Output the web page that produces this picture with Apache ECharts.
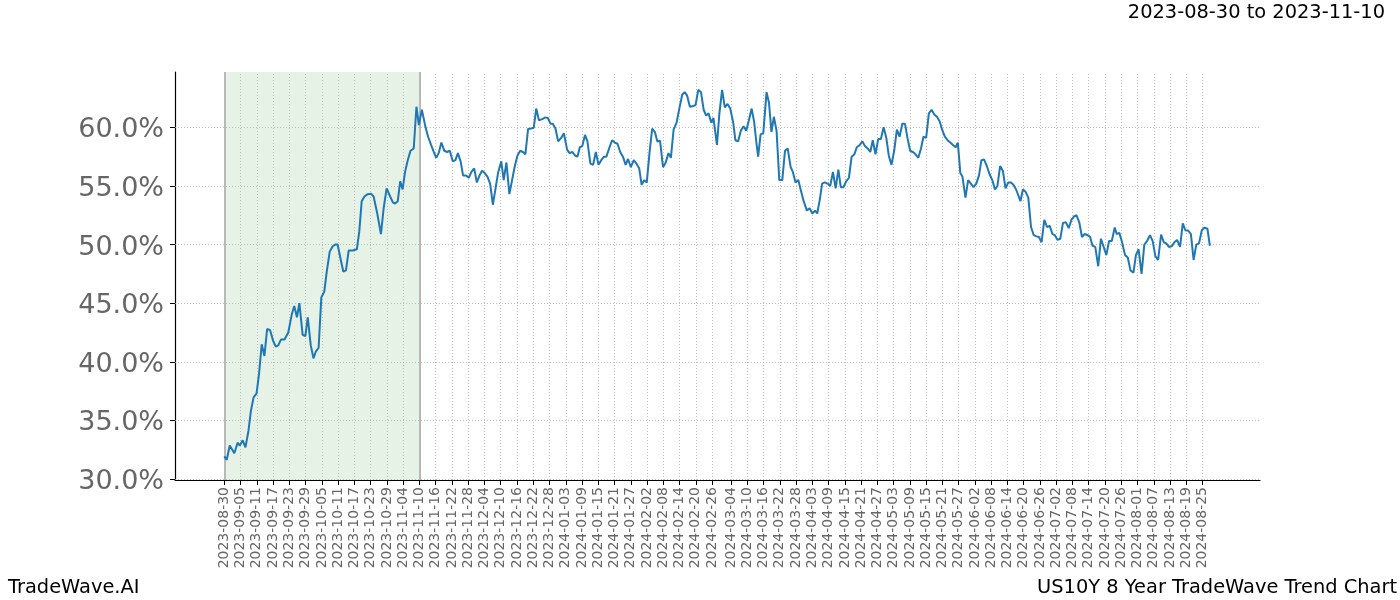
<!DOCTYPE html>
<html><head><meta charset="utf-8">
<script src="https://cdn.jsdelivr.net/npm/echarts@6/dist/echarts.min.js"></script>
<style>html,body{margin:0;padding:0;background:#fff}#c{width:1400px;height:600px}</style>
</head><body><div id="c"></div><script>
// ---- data ----
const startDate = '2023-08-30';
const shadeStart = '2023-08-30';
const shadeEnd = '2023-11-10';
const titleText = '2023-08-30 to 2023-11-10';
const leftFooter = 'TradeWave.AI';
const rightFooter = 'US10Y 8 Year TradeWave Trend Chart';

const tickLabels = [
 '2023-08-30','2023-09-05','2023-09-11','2023-09-17','2023-09-23','2023-09-29','2023-10-05','2023-10-11','2023-10-17','2023-10-23','2023-10-29',
 '2023-11-04','2023-11-10','2023-11-16','2023-11-22','2023-11-28','2023-12-04','2023-12-10','2023-12-16','2023-12-22','2023-12-28',
 '2024-01-03','2024-01-09','2024-01-15','2024-01-21','2024-01-27','2024-02-02','2024-02-08','2024-02-14','2024-02-20','2024-02-26',
 '2024-03-04','2024-03-10','2024-03-16','2024-03-22','2024-03-28','2024-04-03','2024-04-09','2024-04-15','2024-04-21','2024-04-27',
 '2024-05-03','2024-05-09','2024-05-15','2024-05-21','2024-05-27','2024-06-02','2024-06-08','2024-06-14','2024-06-20','2024-06-26',
 '2024-07-02','2024-07-08','2024-07-14','2024-07-20','2024-07-26','2024-08-01','2024-08-07','2024-08-13','2024-08-19','2024-08-25'
];
const yTicks = [30, 35, 40, 45, 50, 55, 60];

// days since startDate
const dayOffsets = [
 0,0.9,2,3.7,4.9,5.7,6.8,7.8,8.9,9.8,10.8,11.9,12.8,13.8,14.8,15.8,16.9,18,19,19.9,20.9,22.2,23.6,24.9,25.8,26.8,27.7,28.9,29.9,30.8,
 31.9,32.9,33.8,34.8,35.8,36.9,37.8,38.9,40,40.9,41.8,42.8,43.9,44.9,45.9,47.4,48.9,49.8,50.7,51.7,52.9,54.2,55.1,56.4,57.8,58.8,59.9,
 61.2,62.2,63,64,64.9,65.8,66.7,67.7,68.7,69.9,70.9,71.8,
 72.9,74.2,75.2,76.3,77.3,78.2,79.1,80.1,81.2,82.2,83.2,84.3,85.3,86.2,87.2,88.1,89.2,90.2,91.2,92.2,93.2,94.2,95.1,96.1,97.1,98.1,
 99.1,100.1,101,102.2,103.1,104.1,105.2,106.2,107.2,108.2,109.2,110.2,111.1,112.1,113.2,114.2,115.1,116.1,117.3,118.5,119.4,120.4,
 121.2,122.2,123.2,124.3,125.3,126.5,127.4,128.4,129.4,130.3,131.2,132.1,133.1,134,135.1,136.1,137.1,138.1,139.1,140.1,141,142,143.1,
 144.1,145.1,146.1,147.1,148.1,
 149,150,151.1,152.1,153.1,154,155,155.9,156.9,157.9,158.9,159.8,160.8,161.9,162.9,163.9,164.8,165.8,166.9,168,169,169.9,170.8,171.8,
 172.8,173.9,174.9,175.9,176.9,177.8,178.7,179.7,180.5,181.8,182.7,183.7,184.7,185.7,186.7,187.8,188.6,189.6,190.6,191.6,192.6,193.6,
 194.6,195.5,196.4,197,197.9,198.9,200.1,201,201.9,202.8,203.8,204.8,205.9,206.9,207.9,209,209.8,210.8,211.8,212.8,213.8,215,216,217,
 218,218.8,219.8,220.6,221.6,
 222.6,223.6,224.6,225.6,226.6,227.5,228.5,229.5,230.5,231.5,232.5,233.4,234.5,235.5,236.4,237.4,238.4,239.3,240.3,241.3,242.3,243.3,
 244.3,245.2,246.2,247.2,248.2,249.2,250.2,251.2,252.1,253.1,254.1,255.1,256.1,257.1,258,259,260,261,262,263,264,264.9,265.9,266.9,
 267.9,268.9,269.9,270.7,271.6,272.4,273.5,274.5,275.5,276.5,277.5,278.5,279.4,280.4,281.4,282.4,283.4,284.4,285.3,286.3,287.3,288.3,
 289.3,290.3,291.2,292.2,
 293.8,294.7,295.7,296.7,297.7,298.7,299.7,300.6,301.6,302.6,303.6,304.6,305.6,306.5,307.5,308.5,309.5,310.6,311.6,312.6,313.6,314.5,
 315.5,316.5,317.5,318.5,319.5,320.4,321.4,322.5,323.5,324.5,325.5,326.5,327.5,328.6,329.3,330.3,331.3,332.4,333.4,334.4,335.5,336.4,
 337.4,338.5,339.5,340.5,341.6,342.6,343.6,344.6,345.7,346.7,347.6,348.6,349.6,350.6,351.6,352.7,353.7,354.7,355.7,356.7,357.7,358.7,
 359.7,360.7,361.7,362.8,363.7
];
const values = [
 31.93,31.64,32.86,32.2,33.1,32.86,33.3,32.7,34.1,35.8,36.97,37.3,38.95,41.5,40.5,42.8,42.7,41.8,41.3,41.4,41.9,41.9,42.5,44.05,44.76,43.8,45.0,42.3,42.2,43.8,
 41.4,40.3,40.9,41.2,45.5,46.0,47.7,49.4,49.86,50.0,50.0,48.9,47.7,47.8,49.5,49.5,49.6,51.1,53.7,54.1,54.3,54.33,54.1,52.7,50.9,53.1,54.8,
 54.1,53.6,53.5,53.7,55.4,54.7,56.2,57.2,58.0,58.2,61.76,60.2,
 61.5,60.06,59.2,58.5,57.9,57.4,57.8,58.7,58.0,57.9,58.0,57.1,57.2,57.8,57.1,55.9,55.9,55.7,56.2,56.5,55.3,55.9,56.3,56.1,55.8,55.2,
 53.4,54.8,56.1,57.1,55.5,57.0,54.3,55.5,56.7,57.6,58.0,57.9,57.7,59.86,59.9,59.97,61.6,60.6,60.7,60.85,60.8,60.3,
 60.3,59.9,58.8,59.1,59.5,58.1,57.8,57.9,57.6,57.5,58.3,58.4,59.35,58.8,56.9,56.8,57.9,56.8,57.2,57.5,57.5,58.2,58.9,
 58.7,58.6,57.9,57.5,56.8,
 57.3,56.6,57.2,56.9,56.5,55.1,55.5,55.3,57.8,59.9,59.6,58.8,58.85,56.6,57.0,57.8,57.4,59.8,60.4,61.7,62.8,63.0,62.7,61.75,
 61.8,61.9,63.2,63.0,61.5,61.0,61.2,60.4,60.8,58.5,61.2,63.2,61.7,62.0,61.6,60.4,58.9,58.8,59.7,60.1,59.7,60.6,
 61.6,60.5,58.6,57.5,59.4,59.5,63.0,62.1,59.6,60.9,59.7,55.5,55.5,58.0,58.2,56.6,56.2,55.3,55.5,54.6,53.7,52.9,53.1,52.65,
 52.9,52.65,53.9,55.2,55.3,
 55.2,55.0,56.2,54.8,56.4,54.9,54.9,55.4,55.7,57.5,57.7,58.3,58.5,58.8,58.4,58.2,57.9,58.9,57.7,59.0,59.0,60.0,
 59.1,57.6,56.8,58.0,59.8,59.2,60.3,60.3,59.1,58.0,57.9,57.7,57.4,58.2,59.2,59.1,61.2,61.5,61.1,60.9,60.5,59.8,59.2,58.9,
 58.7,58.5,58.3,58.7,56.1,55.8,54.0,55.5,55.2,54.9,55.2,55.9,57.2,57.25,56.7,56.0,55.5,54.7,55.0,56.7,56.3,54.8,
 55.3,55.3,55.1,54.7,
 53.7,54.7,54.5,54.0,51.5,50.8,50.7,50.65,50.2,52.1,51.5,51.6,50.9,50.8,50.4,50.5,51.85,51.9,51.4,52.1,52.4,52.5,
 51.9,50.65,50.9,50.8,50.65,49.9,49.8,48.15,50.5,49.8,49.1,50.3,50.3,51.45,50.9,51.0,50.2,49.1,48.9,47.8,47.6,49.1,
 49.6,47.5,50.0,50.3,50.8,50.3,49.0,48.7,50.85,50.2,50.1,49.8,49.85,50.2,50.4,49.8,51.8,51.2,51.2,50.9,48.7,50.0,
 50.1,51.2,51.45,51.35,49.9
];

// ---- helpers ----
const DAY = 86400000;
function dayOf(s) { return Math.round((Date.parse(s + 'T00:00:00Z') - Date.parse(startDate + 'T00:00:00Z')) / DAY); }
const tickDays = tickLabels.map(dayOf);
const labelByDay = {};
tickLabels.forEach(function (l) { labelByDay[dayOf(l)] = l; });
const lastDay = dayOffsets[dayOffsets.length - 1];
const xPad = Math.ceil(lastDay) * 0.05;
const seriesData = dayOffsets.map(function (d, i) { return [d, values[i]]; });
const gridStyle = { color: '#b0b0b0', width: 0.8, type: [1, 2] };

const chart = echarts.init(document.getElementById('c'), null, { renderer: 'canvas' });
const font = 'DejaVu Sans';
chart.setOption({
  animation: false,
  backgroundColor: '#fff',
  grid: { left: 175, top: 72, width: 1085, height: 408, containLabel: false },
  xAxis: {
    type: 'value', min: -xPad, max: Math.ceil(lastDay) + xPad,
    axisLine: { show: true, onZero: false, lineStyle: { color: '#000', width: 1.2 } },
    axisTick: { show: true, customValues: tickDays, length: 5, lineStyle: { color: '#000', width: 1 } },
    axisLabel: {
      customValues: tickDays, rotate: 90, margin: 7,
      formatter: function (v) { return labelByDay[Math.round(v)] || ''; },
      color: '#666', fontSize: 14, fontFamily: font
    },
    splitLine: { show: false }
  },
  yAxis: {
    type: 'value', min: 29.92, max: 64.72,
    axisLine: { show: true, onZero: false, lineStyle: { color: '#000', width: 1.2 } },
    axisTick: { show: true, customValues: yTicks, length: 5, lineStyle: { color: '#000', width: 1 } },
    axisLabel: {
      customValues: yTicks, margin: 11,
      formatter: function (v) { return '{a|' + v.toFixed(1) + '%}'; },
      rich: { a: { color: '#666', fontSize: 27, fontFamily: font, padding: [6, 0, 0, 0] } },
      color: '#666', fontSize: 27, fontFamily: font
    },
    splitLine: { show: false }
  },
  graphic: [
    { type: 'text', right: 15, top: 3, style: { text: titleText, font: '19.4px "DejaVu Sans"', fill: '#000' } },
    { type: 'text', left: 8, top: 578, style: { text: leftFooter, font: '19.4px "DejaVu Sans"', fill: '#000' } },
    { type: 'text', right: 3, top: 578, style: { text: rightFooter, font: '19.4px "DejaVu Sans"', fill: '#000' } }
  ],
  series: [{
    type: 'line', data: seriesData, showSymbol: false, symbol: 'none',
    lineStyle: { width: 0, opacity: 0 }, z: 1, silent: true,
    markArea: {
      silent: true, itemStyle: { color: 'rgba(0,128,0,0.1)' },
      data: [[{ xAxis: dayOf(shadeStart) }, { xAxis: dayOf(shadeEnd) }]]
    },
    markLine: {
      silent: true, symbol: 'none', label: { show: false }, lineStyle: gridStyle,
      data: tickDays.map(function (d) { return { xAxis: d }; })
        .concat(yTicks.map(function (v) { return { yAxis: v }; }))
        .concat([dayOf(shadeStart), dayOf(shadeEnd)].map(function (d) {
          return { xAxis: d, lineStyle: { color: '#b8b8b8', width: 2, type: 'solid' } };
        }))
    }
  }, {
    type: 'line', data: seriesData, showSymbol: false, symbol: 'none',
    lineStyle: { color: '#1f77b4', width: 2 }, z: 5
  }]
});
</script></body></html>
